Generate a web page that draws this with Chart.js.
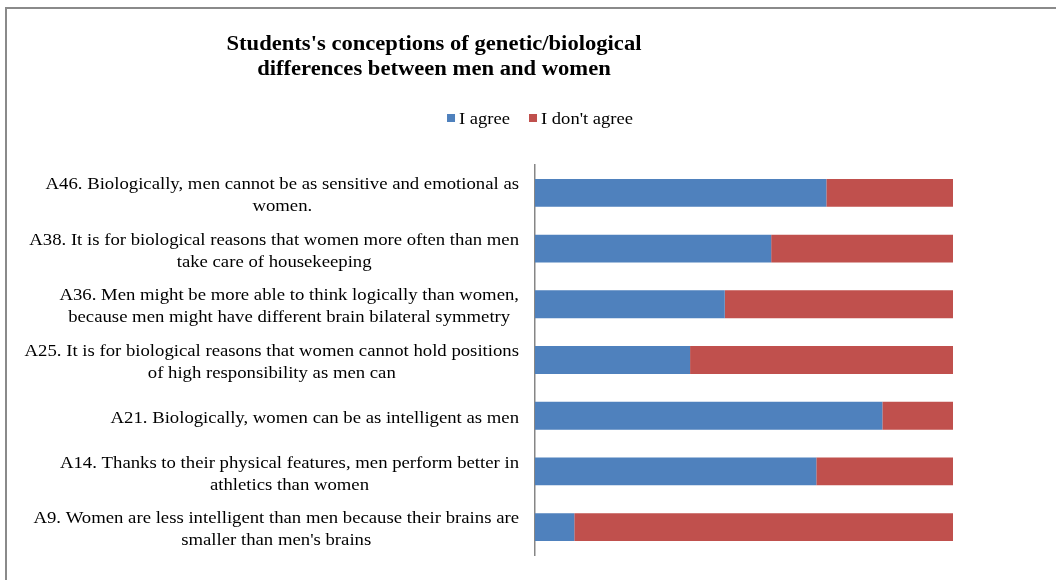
<!DOCTYPE html>
<html>
<head>
<meta charset="utf-8">
<script src="https://cdn.jsdelivr.net/npm/chart.js@4"></script>
<style>
  html, body { margin: 0; padding: 0; background: #fff; }
  #wrap { position: relative; width: 1056px; height: 580px; overflow: hidden; }
  #frame { position: absolute; left: 5px; top: 7px; width: 1100px; height: 700px;
           border-top: 2px solid #8a8a8a; border-left: 2px solid #8a8a8a; }
  #title { position: absolute; left: 184px; width: 500px; top: 31px; text-align: center;
           font-family: "Liberation Serif", "Times New Roman", serif; font-weight: bold;
           font-size: 20px; line-height: 25px; color: #000;
           transform: scaleX(1.13); transform-origin: 250px 0; }
  canvas { position: absolute; left: 0; top: 0; }
</style>
</head>
<body>
<div id="wrap">
  <div id="frame"></div>
  <canvas id="c" width="1056" height="580"></canvas>
  <div id="title">Students's conceptions of genetic/biological<br>differences between men and women</div>
</div>
<script>
const categories = [
  ["A46. Biologically, men cannot be as sensitive and emotional as", "women."],
  ["A38. It is for biological reasons that women more often than men", "take care of housekeeping"],
  ["A36. Men might be more able to think logically than women,", "because men might have different brain bilateral symmetry"],
  ["A25. It is for biological reasons that women cannot hold positions", "of high responsibility as men can"],
  ["A21. Biologically, women can be as intelligent as men"],
  ["A14. Thanks to their physical features, men perform better in", "athletics than women"],
  ["A9. Women are less intelligent than men because their brains are", "smaller than men's brains"]
];
const agree    = [69.7, 56.5, 45.4, 37.1, 83.1, 67.3, 9.4];
const disagree = [30.3, 43.5, 54.6, 62.9, 16.9, 32.7, 90.6];
const seriesNames = ["I agree", "I don't agree"];
const seriesColors = ["#4F81BD", "#C0504D"];

const FONT = '"Liberation Serif", "Times New Roman", serif';
const SX = 1.17;

const textPlugin = {
  id: 'textPlugin',
  afterDraw(chart) {
    const ctx = chart.ctx;
    const scale = chart.scales.y;
    ctx.save();
    ctx.font = '16px ' + FONT;
    ctx.fillStyle = '#000';
    ctx.textBaseline = 'middle';
    // category labels: block right-aligned, lines centered within block
    const rightEdge = scale.right - 16;
    const lh = 22;
    scale.ticks.forEach((t, i) => {
      const lines = categories[i];
      const y = scale.getPixelForTick(i);
      let w = 0;
      lines.forEach(l => { w = Math.max(w, ctx.measureText(l).width * SX); });
      const cx = rightEdge - w / 2;
      const y0 = y - (lines.length - 1) * lh / 2 + 3;
      lines.forEach((l, k) => {
        ctx.save();
        ctx.translate(cx, y0 + k * lh);
        ctx.scale(SX, 1);
        ctx.textAlign = 'center';
        ctx.fillText(l, 0, 0);
        ctx.restore();
      });
    });
    // legend
    const box = 8, gapBoxText = 4, gapItems = 19;
    const items = chart.data.datasets.map((d, i) => ({
      label: d.label, color: d.backgroundColor,
      tw: ctx.measureText(d.label).width * 1.16
    }));
    let total = 0;
    items.forEach((it, i) => { total += box + gapBoxText + it.tw + (i < items.length - 1 ? gapItems : 0); });
    let x = 540 - total / 2;
    const ly = 119;
    items.forEach(it => {
      ctx.fillStyle = it.color;
      ctx.fillRect(x, ly - 5, box, box);
      x += box + gapBoxText;
      ctx.save();
      ctx.translate(x, ly + 1);
      ctx.scale(1.16, 1);
      ctx.fillStyle = '#000';
      ctx.textAlign = 'left';
      ctx.fillText(it.label, 0, 0);
      ctx.restore();
      x += it.tw + gapItems;
    });
    ctx.restore();
  }
};

new Chart(document.getElementById('c'), {
  type: 'bar',
  data: {
    labels: categories,
    datasets: [
      { label: seriesNames[0], data: agree, backgroundColor: seriesColors[0] },
      { label: seriesNames[1], data: disagree, backgroundColor: seriesColors[1] }
    ]
  },
  options: {
    indexAxis: 'y',
    responsive: false,
    animation: false,
    devicePixelRatio: 1,
    categoryPercentage: 1,
    barPercentage: 0.5,
    layout: { padding: { top: 165, bottom: 25, right: 103, left: 0 } },
    scales: {
      x: { stacked: true, min: 0, max: 100, display: false },
      y: {
        stacked: true,
        grid: { display: false },
        border: { display: true, color: '#868686', width: 1.5 },
        ticks: { color: 'transparent', font: { family: FONT, size: 16 } },
        afterFit(scale) { scale.width = 535; }
      }
    },
    plugins: {
      title: { display: false },
      tooltip: { enabled: false },
      legend: { display: false }
    }
  },
  plugins: [textPlugin]
});
</script>
</body>
</html>
